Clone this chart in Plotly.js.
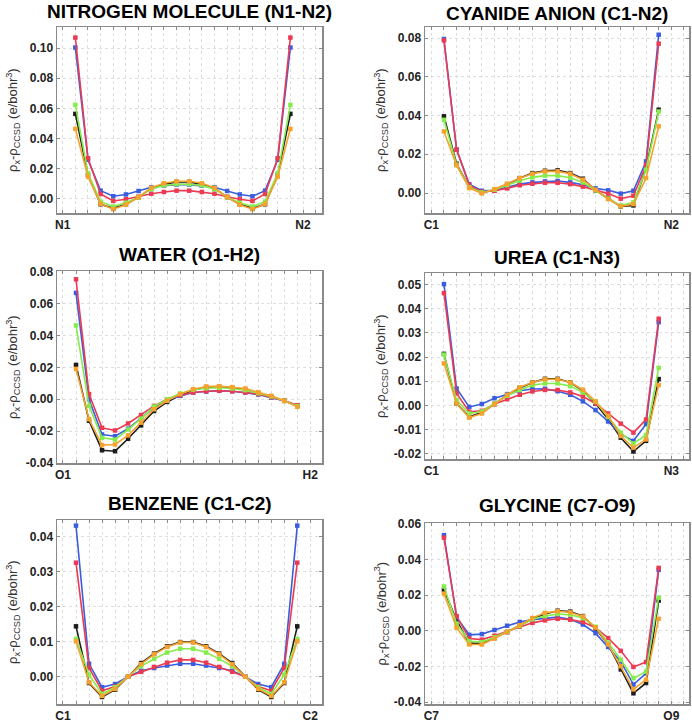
<!DOCTYPE html>
<html><head><meta charset="utf-8">
<script src="https://cdn.plot.ly/plotly-3.0.1.min.js"></script>
<style>html,body{margin:0;padding:0;background:#fff}#chart{width:692px;height:724px}</style>
</head><body><div id="chart"></div><script>
// ---------- DATA ----------
const steps = [1,2,3,4,5,6,7,8,9,10,11,12,13,14,15,16,17,18];
const seriesNames = ['black','blue','red','green','orange'];

// Nitrogen molecule (N1-N2)
const n2Red    = [0.107,0.027,0.0033,-0.0013,-0.0002,0.0015,0.0035,0.0046,0.0055,0.0055,0.0046,0.0035,0.0015,-0.0002,-0.0013,0.0033,0.027,0.107];
const n2Blue   = [0.1004,0.026,0.0055,0.0018,0.003,0.0053,0.0078,0.0088,0.0095,0.0095,0.0088,0.0078,0.0053,0.003,0.0018,0.0055,0.026,0.1004];
const n2Green  = [0.0624,0.017,-0.0018,-0.005,-0.0025,0.0012,0.0065,0.009,0.0098,0.0098,0.009,0.0065,0.0012,-0.0025,-0.005,-0.0018,0.017,0.0624];
const n2Black  = [0.0564,0.016,-0.0035,-0.0062,-0.0035,0.0012,0.007,0.0097,0.0113,0.0113,0.0097,0.007,0.0012,-0.0035,-0.0062,-0.0035,0.016,0.0564];
const n2Orange = [0.0465,0.0148,-0.0033,-0.0068,-0.0038,0.0012,0.0075,0.0104,0.0117,0.0117,0.0104,0.0075,0.0012,-0.0038,-0.0068,-0.0033,0.0148,0.0465];

// Cyanide anion (C1-N2)
const cnRed    = [0.0788,0.0224,0.0041,0.0007,0.0012,0.0024,0.004,0.0048,0.0053,0.0053,0.0046,0.0033,0.0015,-0.0003,-0.0029,-0.0014,0.0143,0.0771];
const cnBlue   = [0.0795,0.0224,0.0046,0.0012,0.0014,0.003,0.0046,0.0055,0.006,0.0062,0.0055,0.0043,0.0024,0.0014,-0.0003,0.0012,0.0163,0.0817];
const cnGreen  = [0.0378,0.0146,0.003,0.0003,0.0017,0.0041,0.0064,0.0081,0.009,0.009,0.0079,0.0055,0.0014,-0.0029,-0.0064,-0.0048,0.012,0.0421];
const cnBlack  = [0.0396,0.0151,0.003,0.0003,0.0014,0.0046,0.0077,0.0103,0.0115,0.0117,0.0103,0.0074,0.0014,-0.0028,-0.0069,-0.0064,0.0129,0.043];
const cnOrange = [0.0318,0.0143,0.0026,-0.0002,0.002,0.0048,0.0077,0.01,0.0112,0.0112,0.01,0.0069,0.0017,-0.0031,-0.0069,-0.0057,0.0077,0.0344];

// Water (O1-H2)
const h2oRed    = [0.0752,0.0032,-0.0179,-0.0196,-0.0152,-0.0099,-0.0042,0.0,0.0025,0.0042,0.005,0.0053,0.005,0.0042,0.0032,0.0013,-0.001,-0.0038];
const h2oBlue   = [0.0667,0.0,-0.0221,-0.0232,-0.0185,-0.0116,-0.0053,-0.0004,0.0021,0.0042,0.0048,0.0053,0.005,0.0042,0.003,0.001,-0.001,-0.004];
const h2oGreen  = [0.0463,-0.0042,-0.0242,-0.0253,-0.019,-0.0122,-0.0046,0.0,0.0036,0.0059,0.0069,0.0072,0.0067,0.0057,0.0038,0.0017,-0.001,-0.0044];
const h2oBlack  = [0.0215,-0.0135,-0.032,-0.0326,-0.0248,-0.0164,-0.0074,-0.0017,0.0025,0.0057,0.0076,0.0078,0.0072,0.0061,0.0038,0.0015,-0.001,-0.0042];
const h2oOrange = [0.019,-0.0125,-0.0288,-0.0284,-0.0227,-0.0147,-0.0063,-0.001,0.0032,0.0063,0.008,0.0082,0.0076,0.0067,0.0044,0.0021,-0.001,-0.0048];

// Urea (C1-N3)
const ureaRed    = [0.0464,0.005,-0.0026,-0.0022,0.0006,0.0026,0.0044,0.0058,0.0064,0.0064,0.0054,0.0037,0.0008,-0.0033,-0.0075,-0.0112,-0.0058,0.0358];
const ureaBlue   = [0.0501,0.007,-0.0006,0.0006,0.003,0.0047,0.0061,0.0068,0.0069,0.0059,0.0044,0.0017,-0.0019,-0.0066,-0.0119,-0.0146,-0.0077,0.0344];
const ureaGreen  = [0.021,0.0022,-0.0033,-0.0025,0.0008,0.004,0.0064,0.0084,0.0091,0.0091,0.008,0.0054,0.0015,-0.0047,-0.0112,-0.0157,-0.0122,0.0155];
const ureaBlack  = [0.0213,0.0008,-0.0047,-0.0029,0.0006,0.0043,0.0072,0.0095,0.011,0.011,0.0095,0.0061,0.0008,-0.0057,-0.0133,-0.019,-0.0146,0.0109];
const ureaOrange = [0.0174,0.0008,-0.005,-0.0033,0.0006,0.0044,0.0075,0.0095,0.0108,0.0108,0.0095,0.0065,0.0017,-0.0043,-0.0126,-0.0174,-0.014,0.0084];

// Benzene (C1-C2)
const bzRed    = [0.0326,0.0025,-0.004,-0.0028,0.0,0.0014,0.0028,0.004,0.0048,0.0048,0.004,0.0028,0.0014,0.0,-0.0028,-0.004,0.0025,0.0326];
const bzBlue   = [0.0432,0.0037,-0.003,-0.0021,0.0,0.0017,0.0025,0.0032,0.0037,0.0037,0.0032,0.0025,0.0017,0.0,-0.0021,-0.003,0.0037,0.0432];
const bzGreen  = [0.0108,0.0006,-0.0049,-0.003,0.0,0.003,0.0051,0.0069,0.008,0.008,0.0069,0.0051,0.003,0.0,-0.003,-0.0049,0.0006,0.0108];
const bzBlack  = [0.0144,-0.0018,-0.0058,-0.0037,0.0,0.0039,0.0066,0.0087,0.0099,0.0099,0.0087,0.0066,0.0039,0.0,-0.0037,-0.0058,-0.0018,0.0144];
const bzOrange = [0.0101,-0.0016,-0.0055,-0.0035,0.0,0.0036,0.0064,0.0085,0.0098,0.0098,0.0085,0.0064,0.0036,0.0,-0.0035,-0.0055,-0.0016,0.0101];

// Glycine (C7-O9)
const glyRed    = [0.0523,0.0083,-0.0043,-0.0049,-0.0027,-0.0004,0.0023,0.0045,0.0059,0.0068,0.0063,0.005,0.0018,-0.004,-0.0112,-0.0202,-0.0175,0.0353];
const glyBlue   = [0.0537,0.0077,-0.0022,-0.0018,0.0005,0.0029,0.005,0.0063,0.0072,0.0077,0.0065,0.0036,-0.0013,-0.009,-0.0171,-0.0301,-0.0238,0.0342];
const glyGreen  = [0.0249,0.0041,-0.0058,-0.0063,-0.0036,-0.0004,0.0027,0.0065,0.0083,0.0095,0.009,0.0072,0.0023,-0.0067,-0.0162,-0.0265,-0.0229,0.0186];
const glyBlack  = [0.023,0.006,-0.007,-0.007,-0.004,-0.0007,0.0029,0.0068,0.0095,0.0113,0.0108,0.0083,0.0014,-0.0076,-0.0216,-0.035,-0.0292,0.017];
const glyOrange = [0.0209,0.0018,-0.0076,-0.0076,-0.0043,-0.0007,0.0032,0.0072,0.0101,0.011,0.0104,0.0081,0.002,-0.0076,-0.0198,-0.0328,-0.0274,0.0068];

// Tick labels
const xEnds = [['N1','N2'],['C1','N2'],['O1','H2'],['C1','N3'],['C1','C2'],['C7','O9']];
const xEndVals = [0,19];
const titles = ['NITROGEN MOLECULE (N1-N2)','CYANIDE ANION (C1-N2)','WATER (O1-H2)','UREA (C1-N3)','BENZENE (C1-C2)','GLYCINE (C7-O9)'];
const yTickVals = [
  [0,0.02,0.04,0.06,0.08,0.10],
  [0,0.02,0.04,0.06,0.08],
  [-0.04,-0.02,0,0.02,0.04,0.06,0.08],
  [-0.02,-0.01,0,0.01,0.02,0.03,0.04,0.05],
  [0,0.01,0.02,0.03,0.04],
  [-0.04,-0.02,0,0.02,0.04,0.06]
];
const yTickText = [
  ['0.00','0.02','0.04','0.06','0.08','0.10'],
  ['0.00','0.02','0.04','0.06','0.08'],
  ['-0.04','-0.02','0.00','0.02','0.04','0.06','0.08'],
  ['-0.02','-0.01','0.00','0.01','0.02','0.03','0.04','0.05'],
  ['0.00','0.01','0.02','0.03','0.04'],
  ['-0.04','-0.02','0.00','0.02','0.04','0.06']
];
const yTitle = 'ρ<sub>x</sub>-ρ<sub>CCSD</sub> (e/bohr<sup>3</sup>)';

const panelData = [
  {black:n2Black, blue:n2Blue, red:n2Red, green:n2Green, orange:n2Orange},
  {black:cnBlack, blue:cnBlue, red:cnRed, green:cnGreen, orange:cnOrange},
  {black:h2oBlack, blue:h2oBlue, red:h2oRed, green:h2oGreen, orange:h2oOrange},
  {black:ureaBlack, blue:ureaBlue, red:ureaRed, green:ureaGreen, orange:ureaOrange},
  {black:bzBlack, blue:bzBlue, red:bzRed, green:bzGreen, orange:bzOrange},
  {black:glyBlack, blue:glyBlue, red:glyRed, green:glyGreen, orange:glyOrange}
];

// ---------- LAYOUT / STYLE ----------
const W = 692, H = 724;
const colors = {black:'#1c1c1c', blue:'#3a5de0', red:'#ec3a52', green:'#86ec4c', orange:'#f6a22c'};
const boxes = [
  {l:57, r:322, t:27, b:213, xr:[-0.45,20.5], yr:[-0.0093,0.114], ty:12, yx:13},
  {l:425, r:689, t:27, b:213, xr:[-0.5,20.4], yr:[-0.0103,0.0857], ty:13, yx:381},
  {l:57, r:322, t:271, b:463, xr:[-0.46,19.9], yr:[-0.04,0.0804], ty:254, yx:13},
  {l:425, r:689, t:273, b:459, xr:[-0.5,20.4], yr:[-0.0221,0.0547], ty:258, yx:381},
  {l:57, r:322, t:520, b:704, xr:[-0.46,19.9], yr:[-0.0078,0.0448], ty:503, yx:13},
  {l:425, r:689, t:523, b:704, xr:[-0.5,20.4], yr:[-0.041,0.0605], ty:505, yx:381}
];
const fam = 'Liberation Sans, Arial, Helvetica, sans-serif';
const traces = [];
const layout = {
  width: W, height: H, margin:{l:0,r:0,t:0,b:0},
  paper_bgcolor:'#fff', plot_bgcolor:'#fff', showlegend:false,
  font:{family:fam, size:12, color:'#222'},
  annotations: []
};
const axisCommon = {
  ticks:'inside', ticklen:3, tickwidth:1, tickcolor:'#8a8a8a',
  showline:true, linecolor:'#8a8a8a', linewidth:1.5, mirror:'ticks',
  showgrid:true, gridcolor:'#dedede', griddash:'dot', gridwidth:1,
  zeroline:false, fixedrange:true,
  tickfont:{family:fam, size:12, color:'#222', weight:'bold'}
};

boxes.forEach((bx, i) => {
  const n = i === 0 ? '' : String(i+1);
  const xa = 'x' + n, ya = 'y' + n;
  seriesNames.forEach(s => {
    traces.push({
      type:'scatter', mode:'lines+markers', x: steps, y: panelData[i][s],
      xaxis: xa, yaxis: ya,
      line:{color:colors[s], width:1.6},
      marker:{color:colors[s], size:4.5, symbol:'square'},
      hoverinfo:'skip'
    });
  });
  layout['xaxis' + n] = Object.assign({}, axisCommon, {
    domain:[bx.l/W, bx.r/W], anchor: ya, range: bx.xr,
    tickmode:'array', tickvals: xEndVals, ticktext: xEnds[i],
    ticklabelstandoff: 0,
    minor:{tick0:0, dtick:1, ticks:'inside', ticklen:3, tickcolor:'#8a8a8a',
           showgrid:true, gridcolor:'#dedede', griddash:'dot', gridwidth:1}
  });
  layout['yaxis' + n] = Object.assign({}, axisCommon, {
    domain:[1 - bx.b/H, 1 - bx.t/H], anchor: xa, range: bx.yr,
    tickmode:'array', tickvals: yTickVals[i], ticktext: yTickText[i]
  });
  layout.annotations.push({
    xref:'paper', yref:'paper', x:(bx.l+bx.r)/2/W, y:1 - bx.ty/H,
    xanchor:'center', yanchor:'middle', showarrow:false,
    text: titles[i], font:{family:fam, size:19, color:'#000', weight:'bold'}
  });
  layout.annotations.push({
    xref:'paper', yref:'paper', x: bx.yx/W, y: 1 - (bx.t+bx.b)/2/H,
    xanchor:'center', yanchor:'middle', showarrow:false, textangle:-90,
    text: yTitle, font:{family:fam, size:13, color:'#333'}
  });
});

Plotly.newPlot('chart', traces, layout, {displayModeBar:false, staticPlot:true});
</script></body></html>
